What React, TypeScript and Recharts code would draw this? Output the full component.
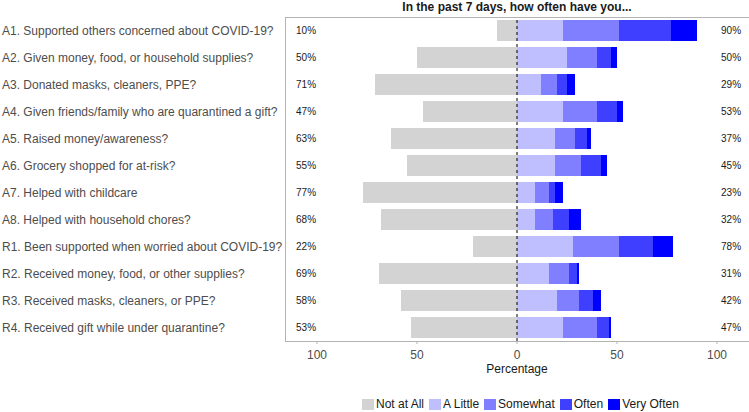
import React from 'react';
import { BarChart, Bar, XAxis, YAxis, ReferenceLine } from 'recharts';

const categories = [
  'A1. Supported others concerned about COVID-19?',
  'A2. Given money, food, or household supplies?',
  'A3. Donated masks, cleaners, PPE?',
  'A4. Given friends/family who are quarantined a gift?',
  'A5. Raised money/awareness?',
  'A6. Grocery shopped for at-risk?',
  'A7. Helped with childcare',
  'A8. Helped with household chores?',
  'R1. Been supported when worried about COVID-19?',
  'R2. Received money, food, or other supplies?',
  'R3. Received masks, cleaners, or PPE?',
  'R4. Received gift while under quarantine?',
];

const notAtAll = [10, 50, 71, 47, 63, 55, 77, 68, 22, 69, 58, 53];
const aLittle = [23, 25, 12, 23, 19, 19, 9, 9, 28, 16, 20, 23];
const somewhat = [28, 15, 8, 17, 10, 13, 7, 9, 23, 10, 11, 17];
const often = [26, 7, 5, 10, 6, 10, 3, 8, 17, 4, 7, 6];
const veryOften = [13, 3, 4, 3, 2, 3, 4, 6, 10, 1, 4, 1];

const xTicks = [-100, -50, 0, 50, 100];

const series = [
  { key: 'notAtAll', name: 'Not at All', color: '#d3d3d3' },
  { key: 'aLittle', name: 'A Little', color: '#bfbfff' },
  { key: 'somewhat', name: 'Somewhat', color: '#7f7fff' },
  { key: 'often', name: 'Often', color: '#3f3fff' },
  { key: 'veryOften', name: 'Very Often', color: '#0000ff' },
];

const FONT = '"Liberation Sans", Arial, sans-serif';

// negative side holds "Not at All", the rest stack to the right
const data = categories.map((label, i) => ({
  label,
  notAtAll: -notAtAll[i],
  aLittle: aLittle[i],
  somewhat: somewhat[i],
  often: often[i],
  veryOften: veryOften[i],
}));

const RowTick = (props: any) => {
  const { y, payload, index } = props;
  const left = notAtAll[index];
  return (
    <g fontFamily={FONT}>
      <text x={2} y={y} dy={4} fontSize={12} fill="#4d4d4d" textAnchor="start">
        {payload.value}
      </text>
      <text x={296} y={y} dy={3.5} fontSize={10} fill="#1a1a1a" textAnchor="start">
        {left}%
      </text>
      <text x={721} y={y} dy={3.5} fontSize={10} fill="#1a1a1a" textAnchor="start">
        {100 - left}%
      </text>
    </g>
  );
};

export default function App() {
  return (
    <div style={{ position: 'absolute', left: 0, top: 0, width: 749, height: 412, fontFamily: FONT, background: '#fff' }}>
      <div
        style={{
          position: 'absolute', left: 285, width: 464, top: 0, lineHeight: '14px', textAlign: 'center',
          fontSize: 12, fontWeight: 'bold', color: '#1a1a1a',
        }}
      >
        In the past 7 days, how often have you...
      </div>
      <BarChart
        width={749}
        height={412}
        data={data}
        layout="vertical"
        stackOffset="sign"
        barCategoryGap={3}
        margin={{ top: 17, right: 0, bottom: 41, left: 0 }}
      >
        <XAxis
          type="number"
          domain={[-116, 116]}
          ticks={xTicks}
          tickFormatter={(v: number) => String(Math.abs(v))}
          axisLine={false}
          tickLine={{ stroke: '#b3b3b3' }}
          tickSize={3}
          tickMargin={6}
          height={30}
          tick={{ fill: '#4d4d4d', fontSize: 12, fontFamily: FONT }}
        />
        <YAxis type="category" dataKey="label" width={285} axisLine={false} tickLine={false} tick={<RowTick />} />
        {series.map((s) => (
          <Bar key={s.key} dataKey={s.key} name={s.name} stackId="a" fill={s.color} isAnimationActive={false} />
        ))}
        <ReferenceLine x={0} stroke="#000" strokeDasharray="3 3" />
      </BarChart>
      {/* panel border */}
      <div
        style={{
          position: 'absolute', left: 285, top: 17, width: 463, height: 323,
          border: '1px solid #b3b3b3', borderRight: 'none', pointerEvents: 'none',
        }}
      />
      <div
        style={{
          position: 'absolute', left: 285, width: 464, top: 362, textAlign: 'center',
          fontSize: 12, color: '#1a1a1a',
        }}
      >
        Percentage
      </div>
      <div
        style={{
          position: 'absolute', left: 362, top: 397, display: 'flex',
          fontSize: 12, color: '#1a1a1a', lineHeight: '14px',
        }}
      >
        {series.map((s) => (
          <div key={s.key} style={{ display: 'flex', alignItems: 'center', marginRight: 5 }}>
            <div style={{ width: 12, height: 11, background: s.color, marginRight: 2 }} />
            <span>{s.name}</span>
          </div>
        ))}
      </div>
    </div>
  );
}
